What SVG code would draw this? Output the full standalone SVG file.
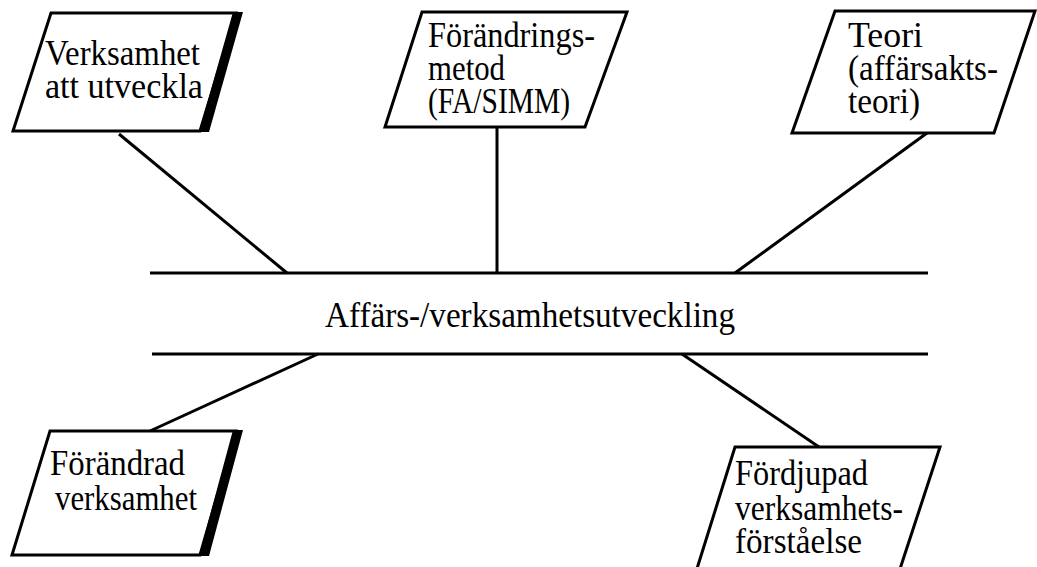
<svg xmlns="http://www.w3.org/2000/svg" width="1037" height="567" viewBox="0 0 1037 567">
<style>
.box{fill:#fff;stroke:#000;stroke-width:3;stroke-linejoin:miter}
.sh{fill:#000}
.ln{stroke:#000;stroke-width:3;fill:none}
text{font-family:"Liberation Serif","Times New Roman",serif;font-size:35px;fill:#000}
</style>
<rect width="1037" height="567" fill="#fff"/>
<g id="connectors">
<line class="ln" x1="150" y1="273" x2="928" y2="273"/>
<line class="ln" x1="152" y1="354" x2="928" y2="354"/>
<line class="ln" x1="119" y1="134" x2="287" y2="273"/>
<line class="ln" x1="497" y1="128" x2="497" y2="273"/>
<line class="ln" x1="927" y1="133" x2="735" y2="273"/>
<line class="ln" x1="318" y1="354" x2="150" y2="431"/>
<line class="ln" x1="682" y1="354" x2="819" y2="447"/>
</g>
<g id="node-verksamhet">
<polygon class="box" points="51,13 236,13 200,131 13,131"/>
<polygon class="sh" points="233,12 243,12 209,132 199,132"/>
<text x="45" y="65" textLength="155" lengthAdjust="spacingAndGlyphs">Verksamhet</text>
<text x="45" y="98" textLength="158" lengthAdjust="spacingAndGlyphs">att  utveckla</text>
</g>
<g id="node-metod">
<polygon class="box" points="422,12 627,12 585,127 385,127"/>
<text x="428" y="47" textLength="167" lengthAdjust="spacingAndGlyphs">Förändrings-</text>
<text x="428" y="80" textLength="77" lengthAdjust="spacingAndGlyphs">metod</text>
<text x="428" y="113" textLength="142" lengthAdjust="spacingAndGlyphs">(FA/SIMM)</text>
</g>
<g id="node-teori">
<polygon class="box" points="835,11 1035,11 994,133 792,133"/>
<text x="848" y="47" textLength="75" lengthAdjust="spacingAndGlyphs">Teori</text>
<text x="848" y="80" textLength="150" lengthAdjust="spacingAndGlyphs">(affärsakts-</text>
<text x="848" y="113" textLength="72" lengthAdjust="spacingAndGlyphs">teori)</text>
</g>
<g id="node-center">
<text x="325" y="327" textLength="410" lengthAdjust="spacingAndGlyphs">Affärs-/verksamhetsutveckling</text>
</g>
<g id="node-forandrad">
<polygon class="box" points="50,431 236,431 200,555 12,555"/>
<polygon class="sh" points="233,430 243,430 209,556 199,556"/>
<text x="50" y="475" textLength="135" lengthAdjust="spacingAndGlyphs">Förändrad</text>
<text x="55" y="510" textLength="142" lengthAdjust="spacingAndGlyphs">verksamhet</text>
</g>
<g id="node-fordjupad">
<polygon class="box" points="735,447 940,447 898,575 695,575"/>
<text x="735" y="485" textLength="133" lengthAdjust="spacingAndGlyphs">Fördjupad</text>
<text x="735" y="520" textLength="168" lengthAdjust="spacingAndGlyphs">verksamhets-</text>
<text x="735" y="553" textLength="127" lengthAdjust="spacingAndGlyphs">förståelse</text>
</g>
</svg>
